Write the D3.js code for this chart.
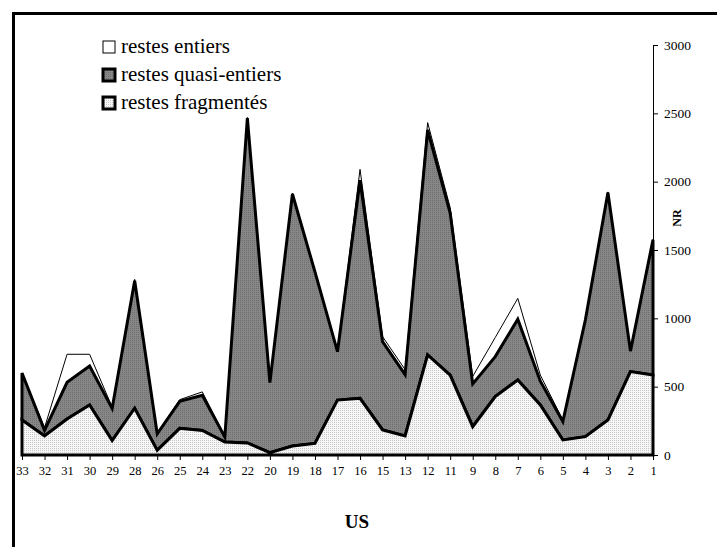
<!DOCTYPE html>
<html><head><meta charset="utf-8">
<script src="https://cdn.jsdelivr.net/npm/d3@7/dist/d3.min.js"></script>
<style>body{margin:0;background:#fff}svg{display:block}text{font-family:"Liberation Serif","Times New Roman",serif}</style>
</head><body><svg id="c" width="717" height="547"></svg>
<script>
const categories = ["33","32","31","30","29","28","26","25","24","23","22","20","19","18","17","16","15","13","12","11","9","8","7","6","5","4","3","2","1"];
const fragmentes = [256,140,263,366,105,342,34,195,180,95,88,17,66,85,402,415,183,139,732,585,207,427,549,366,110,134,256,610,585];
const quasiEntiers = [344,40,269,285,235,933,121,197,257,37,2377,513,1844,1255,354,1595,646,449,1646,1185,313,293,444,174,135,856,1664,150,990];
const entiers = [0,20,205,86,10,10,3,13,25,3,5,2,5,5,4,80,37,37,54,40,55,140,153,45,10,5,5,2,3];
const yTicks = [0,500,1000,1500,2000,2500,3000];
const legendLabels = ["restes entiers","restes quasi-entiers","restes fragmentés"];

const svg = d3.select("#c");
const defs = svg.append("defs");
const pq = defs.append("pattern").attr("id","pq").attr("width",2).attr("height",2).attr("patternUnits","userSpaceOnUse");
pq.append("rect").attr("width",2).attr("height",2).attr("fill","#878787");
pq.append("rect").attr("width",1).attr("height",1).attr("fill","#6e6e6e");
const pf = defs.append("pattern").attr("id","pf").attr("width",2).attr("height",2).attr("patternUnits","userSpaceOnUse");
pf.append("rect").attr("width",2).attr("height",2).attr("fill","#f6f6f6");
pf.append("rect").attr("width",1).attr("height",1).attr("fill","#c8c8c8");

// frame
svg.append("path").attr("d","M13.5,547V13.5H717").attr("fill","none").attr("stroke","#000").attr("stroke-width",3);

const x = d3.scalePoint().domain(categories).range([22,653]);
const y = d3.scaleLinear().domain([0,3000]).range([455,45]);

const rows = categories.map((c,i)=>({cat:c, frag:fragmentes[i], quasi:quasiEntiers[i], ent:entiers[i]}));
const stack = d3.stack().keys(["frag","quasi","ent"]);
const series = stack(rows);
const area = d3.area().x((d,i)=>x(categories[i])).y0(d=>y(d[0])).y1(d=>y(d[1]));

const fills = {frag:"url(#pf)", quasi:"url(#pq)", ent:"#fff"};
const widths = {frag:3, quasi:3, ent:1};
const order = ["ent","quasi","frag"];
order.forEach(k=>{
  const s = series.find(s=>s.key===k);
  svg.append("path").datum(s).attr("d",area)
    .attr("fill",fills[k]).attr("stroke","#000").attr("stroke-width",widths[k]).attr("stroke-linejoin","miter");
});

// bottom axis
const xa = svg.append("g").attr("transform","translate(0,455)")
  .call(d3.axisBottom(x).tickSize(5).tickPadding(6));
xa.select(".domain").attr("stroke","#000").attr("stroke-width",1).attr("d","M22,0.5H653");
xa.selectAll("text").attr("font-size",12.5).attr("fill","#000").attr("font-family","Liberation Serif");

// right axis
const ya = svg.append("g").attr("transform","translate(653,0)")
  .call(d3.axisRight(y).tickValues(yTicks).tickSize(5).tickPadding(6).tickFormat(d3.format("d")));
ya.selectAll("text").attr("font-size",13.5).attr("fill","#000").attr("font-family","Liberation Serif");

svg.append("text").attr("transform","translate(681,218) rotate(-90)").attr("text-anchor","middle")
  .attr("font-size",12).attr("font-weight","bold").text("NR");
svg.append("text").attr("x",357).attr("y",528).attr("text-anchor","middle")
  .attr("font-size",19).attr("font-weight","bold").text("US");

// legend
const lf = ["#fff","url(#pq)","url(#pf)"], lw=[1,3,3];
legendLabels.forEach((t,i)=>{
  svg.append("rect").attr("x",103).attr("y",41+i*28).attr("width",12).attr("height",12)
    .attr("fill",lf[i]).attr("stroke","#000").attr("stroke-width",lw[i]);
  svg.append("text").attr("x",121).attr("y",53+i*28).attr("font-size",21).text(t);
});
</script></body></html>
